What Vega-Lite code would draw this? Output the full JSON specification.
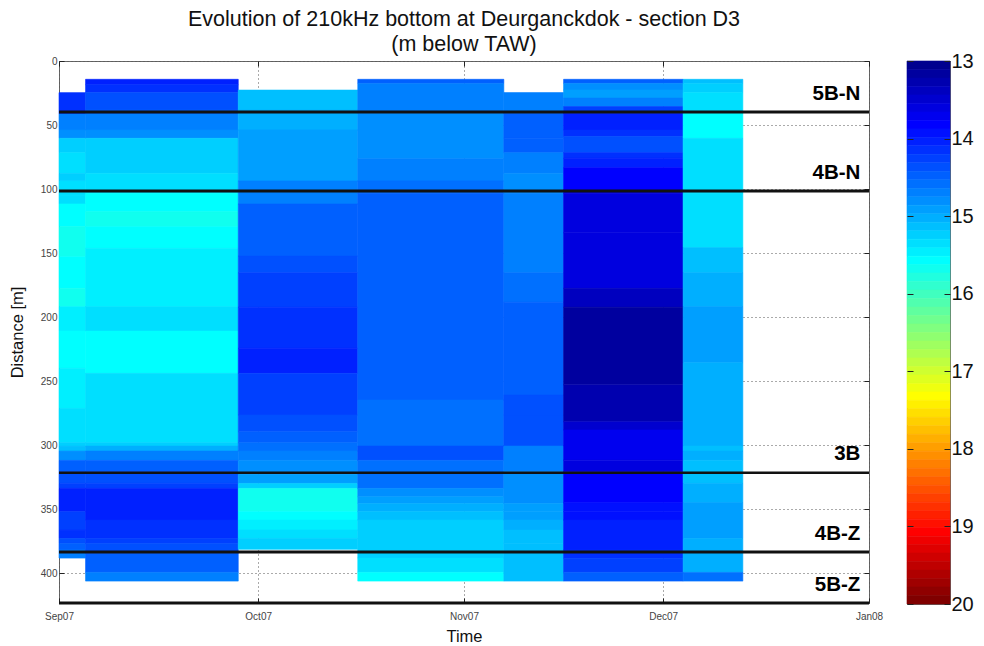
{"$schema":"https://vega.github.io/schema/vega-lite/v6.json","background":"white","padding":{"left":8,"top":8,"right":0,"bottom":0},"config":{"font":"Liberation Sans","view":{"stroke":"#666666"}},"spacing":22,"hconcat":[{"width":810,"height":542,"title":{"text":["Evolution of 210kHz bottom at Deurganckdok - section D3","(m below TAW)"],"fontSize":21.5,"fontWeight":"normal","color":"#111111","lineHeight":25,"anchor":"middle","offset":1},"layer":[{"data":{"values":[
{"start":"2007-09-01","end":"2007-09-05","d0":24.7,"d1":41.4,"depth":14.15},{"start":"2007-09-01","end":"2007-09-05","d0":41.4,"d1":53.9,"depth":14.65},{"start":"2007-09-01","end":"2007-09-05","d0":53.9,"d1":60.4,"depth":14.8},{"start":"2007-09-01","end":"2007-09-05","d0":60.4,"d1":71.6,"depth":15.23},{"start":"2007-09-01","end":"2007-09-05","d0":71.6,"d1":87.8,"depth":15.31},{"start":"2007-09-01","end":"2007-09-05","d0":87.8,"d1":93.7,"depth":15.19},{"start":"2007-09-01","end":"2007-09-05","d0":93.7,"d1":104.7,"depth":15.31},{"start":"2007-09-01","end":"2007-09-05","d0":104.7,"d1":111.7,"depth":15.35},{"start":"2007-09-01","end":"2007-09-05","d0":111.7,"d1":129.4,"depth":15.57},{"start":"2007-09-01","end":"2007-09-05","d0":129.4,"d1":152.9,"depth":15.7},{"start":"2007-09-01","end":"2007-09-05","d0":152.9,"d1":177.6,"depth":15.57},{"start":"2007-09-01","end":"2007-09-05","d0":177.6,"d1":191.9,"depth":15.7},{"start":"2007-09-01","end":"2007-09-05","d0":191.9,"d1":211,"depth":15.47},{"start":"2007-09-01","end":"2007-09-05","d0":211,"d1":240,"depth":15.57},{"start":"2007-09-01","end":"2007-09-05","d0":240,"d1":271.4,"depth":15.47},{"start":"2007-09-01","end":"2007-09-05","d0":271.4,"d1":298.2,"depth":15.4},{"start":"2007-09-01","end":"2007-09-05","d0":298.2,"d1":300.8,"depth":15.23},{"start":"2007-09-01","end":"2007-09-05","d0":300.8,"d1":304.7,"depth":15.1},{"start":"2007-09-01","end":"2007-09-05","d0":304.7,"d1":312,"depth":14.8},{"start":"2007-09-01","end":"2007-09-05","d0":312,"d1":320.6,"depth":14.51},{"start":"2007-09-01","end":"2007-09-05","d0":320.6,"d1":330,"depth":14.35},{"start":"2007-09-01","end":"2007-09-05","d0":330,"d1":333.9,"depth":14.25},{"start":"2007-09-01","end":"2007-09-05","d0":333.9,"d1":352,"depth":14.05},{"start":"2007-09-01","end":"2007-09-05","d0":352,"d1":366.4,"depth":14.25},{"start":"2007-09-01","end":"2007-09-05","d0":366.4,"d1":373,"depth":14.15},{"start":"2007-09-01","end":"2007-09-05","d0":373,"d1":376.9,"depth":14.35},{"start":"2007-09-01","end":"2007-09-05","d0":376.9,"d1":382,"depth":14.51},{"start":"2007-09-01","end":"2007-09-05","d0":382,"d1":388.3,"depth":14.65},
{"start":"2007-09-05","end":"2007-09-28","d0":14.3,"d1":18.5,"depth":14.05},{"start":"2007-09-05","end":"2007-09-28","d0":18.5,"d1":24.7,"depth":14.2},{"start":"2007-09-05","end":"2007-09-28","d0":24.7,"d1":38.3,"depth":14.4},{"start":"2007-09-05","end":"2007-09-28","d0":38.3,"d1":41.4,"depth":14.5},{"start":"2007-09-05","end":"2007-09-28","d0":41.4,"d1":53.9,"depth":14.65},{"start":"2007-09-05","end":"2007-09-28","d0":53.9,"d1":60.4,"depth":14.83},{"start":"2007-09-05","end":"2007-09-28","d0":60.4,"d1":87.8,"depth":15.23},{"start":"2007-09-05","end":"2007-09-28","d0":87.8,"d1":103.4,"depth":15.37},{"start":"2007-09-05","end":"2007-09-28","d0":103.4,"d1":117.7,"depth":15.57},{"start":"2007-09-05","end":"2007-09-28","d0":117.7,"d1":129.4,"depth":15.67},{"start":"2007-09-05","end":"2007-09-28","d0":129.4,"d1":146.3,"depth":15.6},{"start":"2007-09-05","end":"2007-09-28","d0":146.3,"d1":191.9,"depth":15.47},{"start":"2007-09-05","end":"2007-09-28","d0":191.9,"d1":211,"depth":15.37},{"start":"2007-09-05","end":"2007-09-28","d0":211,"d1":244,"depth":15.53},{"start":"2007-09-05","end":"2007-09-28","d0":244,"d1":298.2,"depth":15.37},{"start":"2007-09-05","end":"2007-09-28","d0":298.2,"d1":300.8,"depth":15.2},{"start":"2007-09-05","end":"2007-09-28","d0":300.8,"d1":304.7,"depth":15.05},{"start":"2007-09-05","end":"2007-09-28","d0":304.7,"d1":312,"depth":14.65},{"start":"2007-09-05","end":"2007-09-28","d0":312,"d1":320.6,"depth":14.51},{"start":"2007-09-05","end":"2007-09-28","d0":320.6,"d1":330,"depth":14.37},{"start":"2007-09-05","end":"2007-09-28","d0":330,"d1":333.9,"depth":14.25},{"start":"2007-09-05","end":"2007-09-28","d0":333.9,"d1":358.6,"depth":14.05},{"start":"2007-09-05","end":"2007-09-28","d0":358.6,"d1":373,"depth":14.2},{"start":"2007-09-05","end":"2007-09-28","d0":373,"d1":376.9,"depth":14.3},{"start":"2007-09-05","end":"2007-09-28","d0":376.9,"d1":384.7,"depth":14.42},{"start":"2007-09-05","end":"2007-09-28","d0":384.7,"d1":399.5,"depth":14.51},{"start":"2007-09-05","end":"2007-09-28","d0":399.5,"d1":406.3,"depth":14.65},
{"start":"2007-09-28","end":"2007-10-16","d0":22.7,"d1":38.3,"depth":15.15},{"start":"2007-09-28","end":"2007-10-16","d0":38.3,"d1":53.9,"depth":15},{"start":"2007-09-28","end":"2007-10-16","d0":53.9,"d1":93.7,"depth":14.87},{"start":"2007-09-28","end":"2007-10-16","d0":93.7,"d1":111.7,"depth":14.65},{"start":"2007-09-28","end":"2007-10-16","d0":111.7,"d1":152.4,"depth":14.51},{"start":"2007-09-28","end":"2007-10-16","d0":152.4,"d1":165.4,"depth":14.42},{"start":"2007-09-28","end":"2007-10-16","d0":165.4,"d1":192.4,"depth":14.25},{"start":"2007-09-28","end":"2007-10-16","d0":192.4,"d1":224.5,"depth":14.15},{"start":"2007-09-28","end":"2007-10-16","d0":224.5,"d1":244,"depth":14.05},{"start":"2007-09-28","end":"2007-10-16","d0":244,"d1":276.6,"depth":14.23},{"start":"2007-09-28","end":"2007-10-16","d0":276.6,"d1":289.6,"depth":14.35},{"start":"2007-09-28","end":"2007-10-16","d0":289.6,"d1":298.2,"depth":14.45},{"start":"2007-09-28","end":"2007-10-16","d0":298.2,"d1":304.7,"depth":14.6},{"start":"2007-09-28","end":"2007-10-16","d0":304.7,"d1":312,"depth":14.7},{"start":"2007-09-28","end":"2007-10-16","d0":312,"d1":323,"depth":14.75},{"start":"2007-09-28","end":"2007-10-16","d0":323,"d1":330,"depth":14.95},{"start":"2007-09-28","end":"2007-10-16","d0":330,"d1":333.9,"depth":15.2},{"start":"2007-09-28","end":"2007-10-16","d0":333.9,"d1":352,"depth":15.67},{"start":"2007-09-28","end":"2007-10-16","d0":352,"d1":358.6,"depth":15.57},{"start":"2007-09-28","end":"2007-10-16","d0":358.6,"d1":366.4,"depth":15.45},{"start":"2007-09-28","end":"2007-10-16","d0":366.4,"d1":373,"depth":15.35},{"start":"2007-09-28","end":"2007-10-16","d0":373,"d1":381.5,"depth":15.23},
{"start":"2007-10-16","end":"2007-11-07","d0":14.3,"d1":17.5,"depth":14.45},{"start":"2007-10-16","end":"2007-11-07","d0":17.5,"d1":41,"depth":14.67},{"start":"2007-10-16","end":"2007-11-07","d0":41,"d1":76.4,"depth":14.83},{"start":"2007-10-16","end":"2007-11-07","d0":76.4,"d1":93.7,"depth":14.67},{"start":"2007-10-16","end":"2007-11-07","d0":93.7,"d1":103.4,"depth":14.55},{"start":"2007-10-16","end":"2007-11-07","d0":103.4,"d1":264.9,"depth":14.47},{"start":"2007-10-16","end":"2007-11-07","d0":264.9,"d1":300.8,"depth":14.55},{"start":"2007-10-16","end":"2007-11-07","d0":300.8,"d1":312,"depth":14.42},{"start":"2007-10-16","end":"2007-11-07","d0":312,"d1":333.9,"depth":14.6},{"start":"2007-10-16","end":"2007-11-07","d0":333.9,"d1":340.4,"depth":14.75},{"start":"2007-10-16","end":"2007-11-07","d0":340.4,"d1":345.6,"depth":14.87},{"start":"2007-10-16","end":"2007-11-07","d0":345.6,"d1":352,"depth":15},{"start":"2007-10-16","end":"2007-11-07","d0":352,"d1":358.6,"depth":15.1},{"start":"2007-10-16","end":"2007-11-07","d0":358.6,"d1":388.3,"depth":15.23},{"start":"2007-10-16","end":"2007-11-07","d0":388.3,"d1":399.5,"depth":15.37},{"start":"2007-10-16","end":"2007-11-07","d0":399.5,"d1":406.3,"depth":15.55},
{"start":"2007-11-07","end":"2007-11-16","d0":24.7,"d1":41,"depth":14.65},{"start":"2007-11-07","end":"2007-11-16","d0":41,"d1":60.4,"depth":14.47},{"start":"2007-11-07","end":"2007-11-16","d0":60.4,"d1":71.6,"depth":14.53},{"start":"2007-11-07","end":"2007-11-16","d0":71.6,"d1":87.8,"depth":14.67},{"start":"2007-11-07","end":"2007-11-16","d0":87.8,"d1":103.4,"depth":14.77},{"start":"2007-11-07","end":"2007-11-16","d0":103.4,"d1":165.4,"depth":14.67},{"start":"2007-11-07","end":"2007-11-16","d0":165.4,"d1":188.5,"depth":14.6},{"start":"2007-11-07","end":"2007-11-16","d0":188.5,"d1":261,"depth":14.51},{"start":"2007-11-07","end":"2007-11-16","d0":261,"d1":276.6,"depth":14.37},{"start":"2007-11-07","end":"2007-11-16","d0":276.6,"d1":300.8,"depth":14.42},{"start":"2007-11-07","end":"2007-11-16","d0":300.8,"d1":320.6,"depth":14.7},{"start":"2007-11-07","end":"2007-11-16","d0":320.6,"d1":345.6,"depth":14.77},{"start":"2007-11-07","end":"2007-11-16","d0":345.6,"d1":352,"depth":14.87},{"start":"2007-11-07","end":"2007-11-16","d0":352,"d1":358.6,"depth":14.95},{"start":"2007-11-07","end":"2007-11-16","d0":358.6,"d1":366.4,"depth":15.05},{"start":"2007-11-07","end":"2007-11-16","d0":366.4,"d1":376.9,"depth":15.15},{"start":"2007-11-07","end":"2007-11-16","d0":376.9,"d1":406.3,"depth":15.17},
{"start":"2007-11-16","end":"2007-12-04","d0":14.3,"d1":17.5,"depth":14.45},{"start":"2007-11-16","end":"2007-12-04","d0":17.5,"d1":22.7,"depth":14.75},{"start":"2007-11-16","end":"2007-12-04","d0":22.7,"d1":29,"depth":14.92},{"start":"2007-11-16","end":"2007-12-04","d0":29,"d1":35.6,"depth":14.7},{"start":"2007-11-16","end":"2007-12-04","d0":35.6,"d1":41,"depth":14.3},{"start":"2007-11-16","end":"2007-12-04","d0":41,"d1":53.9,"depth":14.05},{"start":"2007-11-16","end":"2007-12-04","d0":53.9,"d1":59,"depth":14.17},{"start":"2007-11-16","end":"2007-12-04","d0":59,"d1":71.6,"depth":14.35},{"start":"2007-11-16","end":"2007-12-04","d0":71.6,"d1":76,"depth":14.17},{"start":"2007-11-16","end":"2007-12-04","d0":76,"d1":83.4,"depth":14},{"start":"2007-11-16","end":"2007-12-04","d0":83.4,"d1":100.8,"depth":13.82},{"start":"2007-11-16","end":"2007-12-04","d0":100.8,"d1":103.4,"depth":13.75},{"start":"2007-11-16","end":"2007-12-04","d0":103.4,"d1":134.2,"depth":13.63},{"start":"2007-11-16","end":"2007-12-04","d0":134.2,"d1":177.6,"depth":13.55},{"start":"2007-11-16","end":"2007-12-04","d0":177.6,"d1":192.4,"depth":13.35},{"start":"2007-11-16","end":"2007-12-04","d0":192.4,"d1":253,"depth":13.15},{"start":"2007-11-16","end":"2007-12-04","d0":253,"d1":281.8,"depth":13.32},{"start":"2007-11-16","end":"2007-12-04","d0":281.8,"d1":288.3,"depth":13.5},{"start":"2007-11-16","end":"2007-12-04","d0":288.3,"d1":311.8,"depth":13.7},{"start":"2007-11-16","end":"2007-12-04","d0":311.8,"d1":320.9,"depth":13.63},{"start":"2007-11-16","end":"2007-12-04","d0":320.9,"d1":345,"depth":13.8},{"start":"2007-11-16","end":"2007-12-04","d0":345,"d1":352,"depth":13.9},{"start":"2007-11-16","end":"2007-12-04","d0":352,"d1":358.6,"depth":13.95},{"start":"2007-11-16","end":"2007-12-04","d0":358.6,"d1":382,"depth":14.05},{"start":"2007-11-16","end":"2007-12-04","d0":382,"d1":388.5,"depth":14.1},{"start":"2007-11-16","end":"2007-12-04","d0":388.5,"d1":399.5,"depth":14.23},{"start":"2007-11-16","end":"2007-12-04","d0":399.5,"d1":406.3,"depth":14.45},
{"start":"2007-12-04","end":"2007-12-13","d0":14.3,"d1":17.5,"depth":15.15},{"start":"2007-12-04","end":"2007-12-13","d0":17.5,"d1":24.7,"depth":15.23},{"start":"2007-12-04","end":"2007-12-13","d0":24.7,"d1":41,"depth":15.35},{"start":"2007-12-04","end":"2007-12-13","d0":41,"d1":60.4,"depth":15.57},{"start":"2007-12-04","end":"2007-12-13","d0":60.4,"d1":103.4,"depth":15.4},{"start":"2007-12-04","end":"2007-12-13","d0":103.4,"d1":145.8,"depth":15.3},{"start":"2007-12-04","end":"2007-12-13","d0":145.8,"d1":165.4,"depth":15.17},{"start":"2007-12-04","end":"2007-12-13","d0":165.4,"d1":191.9,"depth":15.02},{"start":"2007-12-04","end":"2007-12-13","d0":191.9,"d1":235.7,"depth":14.95},{"start":"2007-12-04","end":"2007-12-13","d0":235.7,"d1":300.8,"depth":15.02},{"start":"2007-12-04","end":"2007-12-13","d0":300.8,"d1":304.7,"depth":15.15},{"start":"2007-12-04","end":"2007-12-13","d0":304.7,"d1":312,"depth":15.02},{"start":"2007-12-04","end":"2007-12-13","d0":312,"d1":330,"depth":15.13},{"start":"2007-12-04","end":"2007-12-13","d0":330,"d1":345,"depth":15.02},{"start":"2007-12-04","end":"2007-12-13","d0":345,"d1":373,"depth":14.92},{"start":"2007-12-04","end":"2007-12-13","d0":373,"d1":399.5,"depth":15.02},{"start":"2007-12-04","end":"2007-12-13","d0":399.5,"d1":406.3,"depth":14.6}
]},"mark":{"type":"rect","strokeWidth":0.6},"encoding":{"x":{"field":"start","type":"temporal","scale":{"type":"utc","domain":["2007-09-01","2008-01-01"]},"axis":{"orient":"bottom","title":"Time","titleFontSize":16.5,"titleFontWeight":"normal","titleColor":"#111111","titlePadding":7,"format":"%b%y","tickCount":{"interval":"month","step":1},"labelOverlap":false,"labelBound":false,"labelFlush":false,"labelAlign":"center","labelFontSize":10,"labelColor":"#444444","labelPadding":13,"tickSize":-5,"tickColor":"#222222","domain":false,"grid":true,"gridDash":[1,3],"gridColor":"#555555","gridOpacity":1}},"x2":{"field":"end"},"y":{"field":"d0","type":"quantitative","scale":{"domain":[0,423.4],"reverse":true,"nice":false,"zero":false},"axis":{"orient":"left","title":"Distance [m]","titleFontSize":16.5,"titleFontWeight":"normal","titleColor":"#111111","titlePadding":15,"values":[0,50,100,150,200,250,300,350,400],"labelFontSize":10,"labelColor":"#444444","labelPadding":7,"tickSize":-5,"tickColor":"#222222","domain":false,"grid":true,"gridDash":[1,3],"gridColor":"#555555","gridOpacity":1}},"y2":{"field":"d1"},"color":{"field":"depth","type":"quantitative","legend":null,"scale":{"type":"quantize","domain":[13,20],"range":["#00008f","#00009f","#0000af","#0000bf","#0000cf","#0000df","#0000ef","#0000ff","#0010ff","#0020ff","#0030ff","#0040ff","#0050ff","#0060ff","#0070ff","#0080ff","#008fff","#009fff","#00afff","#00bfff","#00cfff","#00dfff","#00efff","#00ffff","#10ffef","#20ffdf","#30ffcf","#40ffbf","#50ffaf","#60ff9f","#70ff8f","#80ff80","#8fff70","#9fff60","#afff50","#bfff40","#cfff30","#dfff20","#efff10","#ffff00","#ffef00","#ffdf00","#ffcf00","#ffbf00","#ffaf00","#ff9f00","#ff8f00","#ff8000","#ff7000","#ff6000","#ff5000","#ff4000","#ff3000","#ff2000","#ff1000","#ff0000","#ef0000","#df0000","#cf0000","#bf0000","#af0000","#9f0000","#8f0000","#800000"]}},"stroke":{"field":"depth","type":"quantitative","legend":null,"scale":{"type":"quantize","domain":[13,20],"range":["#00008f","#00009f","#0000af","#0000bf","#0000cf","#0000df","#0000ef","#0000ff","#0010ff","#0020ff","#0030ff","#0040ff","#0050ff","#0060ff","#0070ff","#0080ff","#008fff","#009fff","#00afff","#00bfff","#00cfff","#00dfff","#00efff","#00ffff","#10ffef","#20ffdf","#30ffcf","#40ffbf","#50ffaf","#60ff9f","#70ff8f","#80ff80","#8fff70","#9fff60","#afff50","#bfff40","#cfff30","#dfff20","#efff10","#ffff00","#ffef00","#ffdf00","#ffcf00","#ffbf00","#ffaf00","#ff9f00","#ff8f00","#ff8000","#ff7000","#ff6000","#ff5000","#ff4000","#ff3000","#ff2000","#ff1000","#ff0000","#ef0000","#df0000","#cf0000","#bf0000","#af0000","#9f0000","#8f0000","#800000"]}}}},
{"data":{"values":[{"d":39.9,"w":3},{"d":101.6,"w":3},{"d":321.6,"w":2.5},{"d":383.6,"w":3},{"d":423.4,"w":3}]},"mark":{"type":"rule","color":"#111111","clip":false},"encoding":{"y":{"field":"d","type":"quantitative","axis":null},"strokeWidth":{"field":"w","type":"quantitative","scale":null,"legend":null}}},
{"data":{"values":[{"label":"5B-N","t":"2007-12-31","d":25},{"label":"4B-N","t":"2007-12-31","d":86.7},{"label":"3B","t":"2007-12-31","d":306.3},{"label":"4B-Z","t":"2007-12-31","d":368.8},{"label":"5B-Z","t":"2007-12-31","d":408.6}]},"mark":{"type":"text","align":"right","baseline":"middle","fontSize":20.5,"fontWeight":"bold","color":"#000000","dx":-2,"dy":1},"encoding":{"x":{"field":"t","type":"temporal","axis":{"orient":"top","title":null,"labels":false,"tickCount":{"interval":"month","step":1},"tickSize":-5,"tickColor":"#222222","domain":false,"grid":false}},"y":{"field":"d","type":"quantitative","axis":{"orient":"right","title":null,"labels":false,"values":[0,50,100,150,200,250,300,350,400],"tickSize":-5,"tickColor":"#222222","domain":false,"grid":false}},"text":{"field":"label"}}}],"resolve":{"axis":{"x":"independent","y":"independent"}}},
{"width":43,"height":543,"data":{"values":[{"b0":13,"b1":13.109,"depth":13.05,"c0":0,"c1":1},{"b0":13.109,"b1":13.219,"depth":13.16,"c0":0,"c1":1},{"b0":13.219,"b1":13.328,"depth":13.27,"c0":0,"c1":1},{"b0":13.328,"b1":13.438,"depth":13.38,"c0":0,"c1":1},{"b0":13.438,"b1":13.547,"depth":13.49,"c0":0,"c1":1},{"b0":13.547,"b1":13.656,"depth":13.6,"c0":0,"c1":1},{"b0":13.656,"b1":13.766,"depth":13.71,"c0":0,"c1":1},{"b0":13.766,"b1":13.875,"depth":13.82,"c0":0,"c1":1},{"b0":13.875,"b1":13.984,"depth":13.93,"c0":0,"c1":1},{"b0":13.984,"b1":14.094,"depth":14.04,"c0":0,"c1":1},{"b0":14.094,"b1":14.203,"depth":14.15,"c0":0,"c1":1},{"b0":14.203,"b1":14.313,"depth":14.26,"c0":0,"c1":1},{"b0":14.313,"b1":14.422,"depth":14.37,"c0":0,"c1":1},{"b0":14.422,"b1":14.531,"depth":14.48,"c0":0,"c1":1},{"b0":14.531,"b1":14.641,"depth":14.59,"c0":0,"c1":1},{"b0":14.641,"b1":14.75,"depth":14.7,"c0":0,"c1":1},{"b0":14.75,"b1":14.859,"depth":14.8,"c0":0,"c1":1},{"b0":14.859,"b1":14.969,"depth":14.91,"c0":0,"c1":1},{"b0":14.969,"b1":15.078,"depth":15.02,"c0":0,"c1":1},{"b0":15.078,"b1":15.188,"depth":15.13,"c0":0,"c1":1},{"b0":15.188,"b1":15.297,"depth":15.24,"c0":0,"c1":1},{"b0":15.297,"b1":15.406,"depth":15.35,"c0":0,"c1":1},{"b0":15.406,"b1":15.516,"depth":15.46,"c0":0,"c1":1},{"b0":15.516,"b1":15.625,"depth":15.57,"c0":0,"c1":1},{"b0":15.625,"b1":15.734,"depth":15.68,"c0":0,"c1":1},{"b0":15.734,"b1":15.844,"depth":15.79,"c0":0,"c1":1},{"b0":15.844,"b1":15.953,"depth":15.9,"c0":0,"c1":1},{"b0":15.953,"b1":16.063,"depth":16.01,"c0":0,"c1":1},{"b0":16.063,"b1":16.172,"depth":16.12,"c0":0,"c1":1},{"b0":16.172,"b1":16.281,"depth":16.23,"c0":0,"c1":1},{"b0":16.281,"b1":16.391,"depth":16.34,"c0":0,"c1":1},{"b0":16.391,"b1":16.5,"depth":16.45,"c0":0,"c1":1},{"b0":16.5,"b1":16.609,"depth":16.55,"c0":0,"c1":1},{"b0":16.609,"b1":16.719,"depth":16.66,"c0":0,"c1":1},{"b0":16.719,"b1":16.828,"depth":16.77,"c0":0,"c1":1},{"b0":16.828,"b1":16.938,"depth":16.88,"c0":0,"c1":1},{"b0":16.938,"b1":17.047,"depth":16.99,"c0":0,"c1":1},{"b0":17.047,"b1":17.156,"depth":17.1,"c0":0,"c1":1},{"b0":17.156,"b1":17.266,"depth":17.21,"c0":0,"c1":1},{"b0":17.266,"b1":17.375,"depth":17.32,"c0":0,"c1":1},{"b0":17.375,"b1":17.484,"depth":17.43,"c0":0,"c1":1},{"b0":17.484,"b1":17.594,"depth":17.54,"c0":0,"c1":1},{"b0":17.594,"b1":17.703,"depth":17.65,"c0":0,"c1":1},{"b0":17.703,"b1":17.813,"depth":17.76,"c0":0,"c1":1},{"b0":17.813,"b1":17.922,"depth":17.87,"c0":0,"c1":1},{"b0":17.922,"b1":18.031,"depth":17.98,"c0":0,"c1":1},{"b0":18.031,"b1":18.141,"depth":18.09,"c0":0,"c1":1},{"b0":18.141,"b1":18.25,"depth":18.2,"c0":0,"c1":1},{"b0":18.25,"b1":18.359,"depth":18.3,"c0":0,"c1":1},{"b0":18.359,"b1":18.469,"depth":18.41,"c0":0,"c1":1},{"b0":18.469,"b1":18.578,"depth":18.52,"c0":0,"c1":1},{"b0":18.578,"b1":18.688,"depth":18.63,"c0":0,"c1":1},{"b0":18.688,"b1":18.797,"depth":18.74,"c0":0,"c1":1},{"b0":18.797,"b1":18.906,"depth":18.85,"c0":0,"c1":1},{"b0":18.906,"b1":19.016,"depth":18.96,"c0":0,"c1":1},{"b0":19.016,"b1":19.125,"depth":19.07,"c0":0,"c1":1},{"b0":19.125,"b1":19.234,"depth":19.18,"c0":0,"c1":1},{"b0":19.234,"b1":19.344,"depth":19.29,"c0":0,"c1":1},{"b0":19.344,"b1":19.453,"depth":19.4,"c0":0,"c1":1},{"b0":19.453,"b1":19.563,"depth":19.51,"c0":0,"c1":1},{"b0":19.563,"b1":19.672,"depth":19.62,"c0":0,"c1":1},{"b0":19.672,"b1":19.781,"depth":19.73,"c0":0,"c1":1},{"b0":19.781,"b1":19.891,"depth":19.84,"c0":0,"c1":1},{"b0":19.891,"b1":20,"depth":19.95,"c0":0,"c1":1}]},"layer":[{"mark":{"type":"rect","strokeWidth":0.6},"encoding":{"x":{"field":"c0","type":"quantitative","scale":{"domain":[0,1],"nice":false},"axis":null},"x2":{"field":"c1"},"y":{"field":"b0","type":"quantitative","scale":{"domain":[13,20],"reverse":true,"nice":false,"zero":false},"axis":{"orient":"right","title":null,"values":[13,14,15,16,17,18,19,20],"labelFontSize":20,"labelColor":"#111111","labelPadding":7,"tickSize":-6,"tickColor":"#222222","domain":false,"grid":false,"zindex":1}},"y2":{"field":"b1"},"color":{"field":"depth","type":"quantitative","legend":null,"scale":{"type":"quantize","domain":[13,20],"range":["#00008f","#00009f","#0000af","#0000bf","#0000cf","#0000df","#0000ef","#0000ff","#0010ff","#0020ff","#0030ff","#0040ff","#0050ff","#0060ff","#0070ff","#0080ff","#008fff","#009fff","#00afff","#00bfff","#00cfff","#00dfff","#00efff","#00ffff","#10ffef","#20ffdf","#30ffcf","#40ffbf","#50ffaf","#60ff9f","#70ff8f","#80ff80","#8fff70","#9fff60","#afff50","#bfff40","#cfff30","#dfff20","#efff10","#ffff00","#ffef00","#ffdf00","#ffcf00","#ffbf00","#ffaf00","#ff9f00","#ff8f00","#ff8000","#ff7000","#ff6000","#ff5000","#ff4000","#ff3000","#ff2000","#ff1000","#ff0000","#ef0000","#df0000","#cf0000","#bf0000","#af0000","#9f0000","#8f0000","#800000"]}},"stroke":{"field":"depth","type":"quantitative","legend":null,"scale":{"type":"quantize","domain":[13,20],"range":["#00008f","#00009f","#0000af","#0000bf","#0000cf","#0000df","#0000ef","#0000ff","#0010ff","#0020ff","#0030ff","#0040ff","#0050ff","#0060ff","#0070ff","#0080ff","#008fff","#009fff","#00afff","#00bfff","#00cfff","#00dfff","#00efff","#00ffff","#10ffef","#20ffdf","#30ffcf","#40ffbf","#50ffaf","#60ff9f","#70ff8f","#80ff80","#8fff70","#9fff60","#afff50","#bfff40","#cfff30","#dfff20","#efff10","#ffff00","#ffef00","#ffdf00","#ffcf00","#ffbf00","#ffaf00","#ff9f00","#ff8f00","#ff8000","#ff7000","#ff6000","#ff5000","#ff4000","#ff3000","#ff2000","#ff1000","#ff0000","#ef0000","#df0000","#cf0000","#bf0000","#af0000","#9f0000","#8f0000","#800000"]}}}},{"mark":{"type":"rect","opacity":0},"encoding":{"x":{"field":"c0","type":"quantitative","axis":null},"x2":{"field":"c1"},"y":{"field":"b0","type":"quantitative","axis":{"orient":"left","title":null,"labels":false,"values":[13,14,15,16,17,18,19,20],"tickSize":-6,"tickColor":"#222222","domain":false,"grid":false,"zindex":1}},"y2":{"field":"b1"}}}],"resolve":{"axis":{"y":"independent"}}}]}
